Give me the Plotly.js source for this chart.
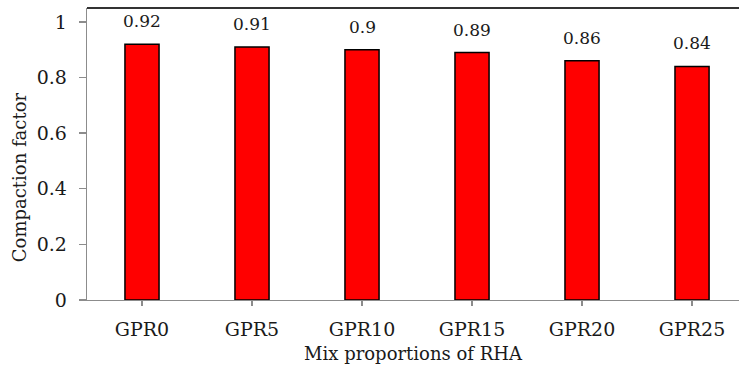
<!DOCTYPE html>
<html>
<head>
<meta charset="utf-8">
<script src="https://cdn.plot.ly/plotly-3.0.1.min.js"></script>
<style>
  html, body { margin: 0; padding: 0; background: #fff; }
  #chart { width: 739px; height: 374px; }
</style>
</head>
<body>
<div id="chart"></div>
<script>
// Compaction factor for each RHA mix proportion
const mixes = ['GPR0', 'GPR5', 'GPR10', 'GPR15', 'GPR20', 'GPR25'];
const compactionFactor = [0.92, 0.91, 0.9, 0.89, 0.86, 0.84];
const yTicks = [0, 0.2, 0.4, 0.6, 0.8, 1];
const yTickLabels = ['0', '0.2', '0.4', '0.6', '0.8', '1'];

const serif = 'DejaVu Serif, Liberation Serif, serif';
const ink = '#1a1a1a';
const axisGrey = '#8c8c8c';

const bars = {
  type: 'bar',
  x: mixes,
  y: compactionFactor,
  width: 0.31,
  marker: { color: '#ff0000', line: { color: '#000000', width: 1.5 } },
  hoverinfo: 'x+y'
};

// value labels floating above each bar
const valueLabels = mixes.map((m, i) => ({
  x: m, y: compactionFactor[i], xref: 'x', yref: 'y',
  text: String(compactionFactor[i]),
  showarrow: false, yanchor: 'bottom', yshift: 11,
  font: { family: serif, size: 17, color: ink }
}));

const yTitle = {
  xref: 'paper', yref: 'paper', x: -0.103, y: 0.42,
  xanchor: 'center', yanchor: 'middle', textangle: -90, showarrow: false,
  text: 'Compaction factor',
  font: { family: serif, size: 18, color: ink }
};

const layout = {
  width: 739, height: 374,
  margin: { l: 87, r: 0, t: 8, b: 74, pad: 0 },
  paper_bgcolor: '#ffffff', plot_bgcolor: '#ffffff',
  showlegend: false,
  xaxis: {
    type: 'category',
    range: [-0.5, 5.427],
    showgrid: false, zeroline: false,
    showline: true, linecolor: axisGrey, linewidth: 1.3,
    ticks: 'outside', ticklen: 5, tickcolor: axisGrey, tickwidth: 1.3,
    ticklabelstandoff: 7,
    tickfont: { family: serif, size: 19, color: ink },
    title: { text: 'Mix proportions of RHA', font: { family: serif, size: 18, color: ink }, standoff: 8 },
    fixedrange: true
  },
  yaxis: {
    range: [0, 1.05],
    tickvals: yTicks, ticktext: yTickLabels,
    showgrid: false, zeroline: false,
    showline: true, linecolor: axisGrey, linewidth: 1.3,
    ticks: 'outside', ticklen: 7, tickcolor: axisGrey, tickwidth: 1.3,
    ticklabelstandoff: 8,
    tickfont: { family: serif, size: 19, color: ink },
    fixedrange: true
  },
  shapes: [{
    type: 'line', xref: 'paper', yref: 'paper',
    x0: 0, x1: 1, y0: 1, y1: 1,
    line: { color: '#333333', width: 2 }
  }],
  annotations: valueLabels.concat([yTitle])
};

Plotly.newPlot('chart', [bars], layout, { displayModeBar: false, staticPlot: true });
</script>
</body>
</html>
